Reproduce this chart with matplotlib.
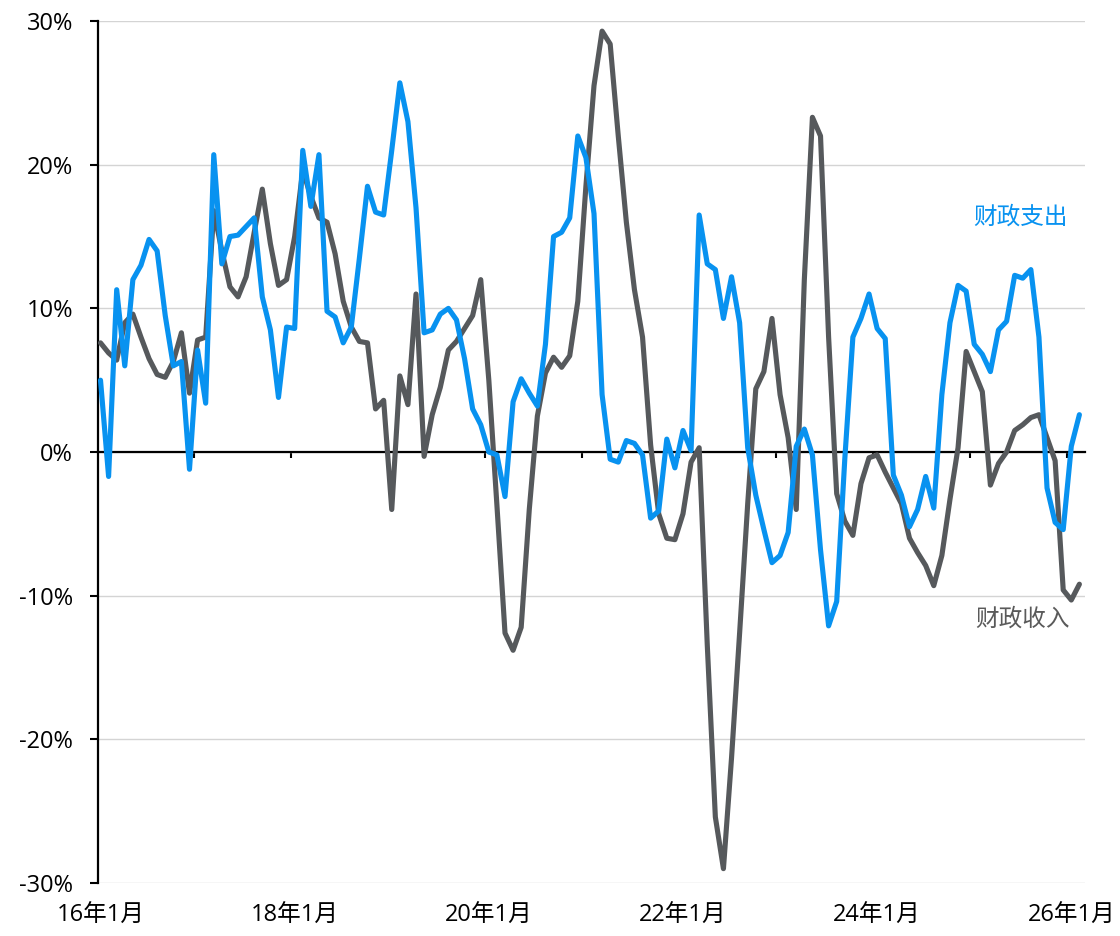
import matplotlib
matplotlib.use("Agg")
import matplotlib.pyplot as plt
import numpy as np

plt.rcParams['font.family'] = ['Open Sans', 'Noto Sans CJK SC', 'DejaVu Sans']

# 月度同比（%），16年1月起
revenue = [7.6, 6.9, 6.4, 9.0, 9.6, 8.0, 6.5, 5.4, 5.2, 6.3, 8.3, 4.1,
           7.8, 8.0, 16.8, 14.0, 11.5, 10.8, 12.2, 15.3, 18.3, 14.5, 11.6, 12.0,
           15.0, 19.6, 17.8, 16.3, 16.0, 13.8, 10.5, 8.7, 7.7, 7.6, 3.0, 3.6,
           -4.0, 5.3, 3.3, 11.0, -0.3, 2.6, 4.5, 7.1, 7.7, 8.6, 9.5, 12.0,
           5.0, -3.7, -12.6, -13.8, -12.2, -4.0, 2.5, 5.5, 6.6, 5.9, 6.7, 10.5,
           18.5, 25.5, 29.3, 28.4, 22.0, 16.0, 11.3, 8.0, 0.5, -4.3, -6.0, -6.1,
           -4.3, -0.7, 0.3, -13.4, -25.4, -29.0, -21.3, -12.6, -3.6, 4.4, 5.6, 9.3,
           4.0, 1.0, -4.0, 12.0, 23.3, 22.0, 8.0, -2.9, -4.8, -5.8, -2.2, -0.4,
           -0.2, -1.4, -2.5, -3.6, -6.0, -7.0, -7.9, -9.3, -7.2, -3.3, 0.3, 7.0,
           5.6, 4.2, -2.3, -0.8, 0.0, 1.5, 1.9, 2.4, 2.6, 1.0, -0.6, -9.6,
           -10.3, -9.2]

expenditure = [5.0, -1.7, 11.3, 6.0, 12.0, 13.0, 14.8, 14.0, 9.5, 6.0, 6.3, -1.2,
               7.1, 3.4, 20.7, 13.1, 15.0, 15.1, 15.7, 16.3, 10.8, 8.5, 3.8, 8.7,
               8.6, 21.0, 17.1, 20.7, 9.8, 9.4, 7.6, 8.7, 13.5, 18.5, 16.7, 16.5,
               21.0, 25.7, 23.0, 17.0, 8.3, 8.5, 9.6, 10.0, 9.2, 6.5, 3.0, 1.9,
               0.0, -0.2, -3.1, 3.5, 5.1, 4.1, 3.2, 7.5, 15.0, 15.3, 16.3, 22.0,
               20.5, 16.6, 4.0, -0.5, -0.7, 0.8, 0.6, -0.2, -4.6, -4.1, 0.9, -1.1,
               1.5, 0.1, 16.5, 13.1, 12.7, 9.3, 12.2, 9.0, 0.3, -3.0, -5.4, -7.7,
               -7.2, -5.6, 0.4, 1.6, -0.2, -6.8, -12.1, -10.4, -0.5, 8.0, 9.3, 11.0,
               8.6, 7.9, -1.6, -3.0, -5.2, -4.0, -1.7, -3.9, 4.0, 9.0, 11.6, 11.2,
               7.5, 6.8, 5.6, 8.5, 9.1, 12.3, 12.1, 12.7, 8.0, -2.5, -4.9, -5.4,
               0.4, 2.6]

x_labels = ['16年1月', '18年1月', '20年1月', '22年1月', '24年1月', '26年1月']
y_values = [-30, -20, -10, 0, 10, 20, 30]

gray = '#56595c'
blue = '#0892f0'

fig = plt.figure(figsize=(11.2, 9.36), dpi=100)
ax = fig.add_axes([0.0875, 0.0566, 0.8813, 0.9209])

months = np.arange(len(revenue))
ax.plot(months, revenue, color=gray, lw=3.7, solid_joinstyle='round',
        solid_capstyle='round', zorder=3)
ax.plot(months, expenditure, color=blue, lw=3.7, solid_joinstyle='round',
        solid_capstyle='round', zorder=4)

ax.set_xlim(-0.31, 121.7)
ax.set_ylim(-30, 30)

# y axis
ax.set_yticks(y_values)
ax.set_yticklabels([f'{v}%' for v in y_values])
ax.tick_params(axis='y', direction='out', length=6, width=1.5, pad=12,
               labelsize=17, colors='black')
ax.grid(axis='y', color='#d4d4d4', lw=1.0, zorder=0)
ax.set_axisbelow(True)

for s in ['top', 'right']:
    ax.spines[s].set_visible(False)
ax.spines['left'].set_linewidth(1.6)
ax.spines['bottom'].set_position(('data', 0))
ax.spines['bottom'].set_linewidth(1.6)
ax.spines['bottom'].set_zorder(2)

# yearly ticks on the zero line
ax.set_xticks(np.arange(11.5, len(revenue), 12))
ax.tick_params(axis='x', direction='out', length=4, width=1.5, labelbottom=False)

# date labels at the bottom
sec = ax.secondary_xaxis(0)
sec.set_xticks(np.arange(0, 121, 24), x_labels)
sec.tick_params(length=0, pad=15, labelsize=17)
sec.spines['bottom'].set_visible(False)

ax.text(113.7, 16.3, '财政支出', color=blue, fontsize=17, ha='center', va='center')
ax.text(113.9, -11.7, '财政收入', color='#5a5a5a', fontsize=17, ha='center', va='center')

fig.savefig('out.png', dpi=100)
